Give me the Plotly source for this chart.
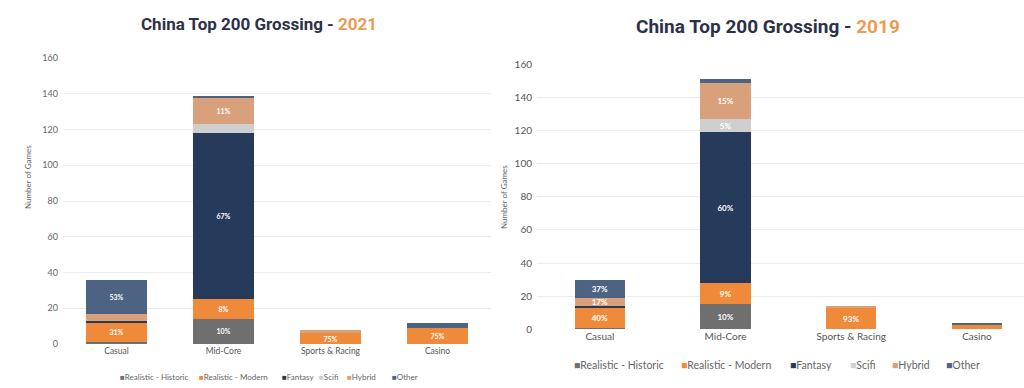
import plotly.graph_objects as go

categories = ["Casual", "Mid-Core", "Sports & Racing", "Casino"]
series_names = ["Realistic - Historic", "Realistic - Modern", "Fantasy", "Scifi", "Hybrid", "Other"]
series_colors = ["#6f6f6f", "#ef8a3b", "#263a5c", "#cfcfcf", "#d9a07c", "#4d6384"]
y_ticks = [0, 20, 40, 60, 80, 100, 120, 140, 160]

# 2021 values (number of games)
historic_2021 = [1, 14, 0, 0]
modern_2021 = [11, 11, 6, 9]
fantasy_2021 = [1, 93, 0, 0]
scifi_2021 = [0, 5, 0, 0]
hybrid_2021 = [4, 15, 2, 0]
other_2021 = [19, 1, 0, 3]

# 2021 share labels
historic_2021_txt = ["", "10%", "", ""]
modern_2021_txt = ["31%", "8%", "75%", "75%"]
fantasy_2021_txt = ["", "67%", "", ""]
scifi_2021_txt = ["", "", "", ""]
hybrid_2021_txt = ["", "11%", "", ""]
other_2021_txt = ["53%", "", "", ""]

# 2019 values (number of games)
historic_2019 = [1, 15, 0, 0]
modern_2019 = [12, 13, 13, 3]
fantasy_2019 = [1, 91, 0, 0]
scifi_2019 = [0, 8, 0, 0]
hybrid_2019 = [5, 22, 1, 0]
other_2019 = [11, 2, 0, 1]

# 2019 share labels
historic_2019_txt = ["", "10%", "", ""]
modern_2019_txt = ["40%", "9%", "93%", ""]
fantasy_2019_txt = ["", "60%", "", ""]
scifi_2019_txt = ["", "5%", "", ""]
hybrid_2019_txt = ["17%", "15%", "", ""]
other_2019_txt = ["37%", "", "", ""]

vals_2021 = [historic_2021, modern_2021, fantasy_2021, scifi_2021, hybrid_2021, other_2021]
txt_2021 = [historic_2021_txt, modern_2021_txt, fantasy_2021_txt, scifi_2021_txt, hybrid_2021_txt, other_2021_txt]
vals_2019 = [historic_2019, modern_2019, fantasy_2019, scifi_2019, hybrid_2019, other_2019]
txt_2019 = [historic_2019_txt, modern_2019_txt, fantasy_2019_txt, scifi_2019_txt, hybrid_2019_txt, other_2019_txt]

W, H = 1024, 388
FONT = "Lato"
TITLE_FONT = "Roboto"

fig = go.Figure()

for name, col, v, t in zip(series_names, series_colors, vals_2021, txt_2021):
    fig.add_trace(go.Bar(
        x=categories, y=v, name=name, marker=dict(color=col, line=dict(width=0)),
        width=0.57, text=t, textposition="inside", insidetextanchor="middle",
        constraintext="none", textangle=0,
        textfont=dict(family=FONT, size=7, color="white", weight="bold"),
        xaxis="x", yaxis="y", showlegend=False))

for name, col, v, t in zip(series_names, series_colors, vals_2019, txt_2019):
    fig.add_trace(go.Bar(
        x=categories, y=v, name=name, marker=dict(color=col, line=dict(width=0)),
        width=0.40, text=t, textposition="inside", insidetextanchor="middle",
        constraintext="none", textangle=0,
        textfont=dict(family=FONT, size=8, color="white", weight="bold"),
        xaxis="x2", yaxis="y2", showlegend=False))

def px(x):
    return x / W

def py(y):
    return (H - y) / H

grid = "#ececec"
fig.update_layout(
    width=W, height=H, margin=dict(l=0, r=0, t=0, b=0, pad=0, autoexpand=False),
    paper_bgcolor="white", plot_bgcolor="white", barmode="stack", bargap=0.4,
    font=dict(family=FONT, color="#666666"),
    xaxis=dict(domain=[px(63), px(491)], range=[-0.5, 3.5], showgrid=False, zeroline=False,
               showline=False, ticks="", automargin=False,
               tickfont=dict(size=8.5, color="#555555"), anchor="y"),
    yaxis=dict(domain=[py(344), py(58)], range=[0, 160], tickvals=y_ticks, gridcolor=grid,
               gridwidth=1, zeroline=False, showline=False, ticks="", ticklabelstandoff=4,
               automargin=False, tickfont=dict(size=9, color="#666666"), anchor="x"),
    xaxis2=dict(domain=[px(537), 1.0], range=[-0.5, (W - 537) / 125.7 - 0.5], showgrid=False,
                zeroline=False, showline=False, ticks="", automargin=False,
                tickfont=dict(size=10, color="#555555"), anchor="y2"),
    yaxis2=dict(domain=[py(329.3), py(64.3)], range=[0, 160], tickvals=y_ticks, gridcolor=grid,
                gridwidth=1, zeroline=False, showline=False, ticks="", ticklabelstandoff=4,
                automargin=False, tickfont=dict(size=10, color="#555555"), anchor="x2"),
)

title_col = "#2b3247"
year_col = "#ef9a52"
ann = []
ann.append(dict(x=px(259), y=py(24), xref="paper", yref="paper", showarrow=False,
                xanchor="center", yanchor="middle",
                text=f"China Top 200 Grossing - <span style='color:{year_col}'>2021</span>",
                font=dict(family=TITLE_FONT, size=17, color=title_col, weight="bold")))
ann.append(dict(x=px(768), y=py(27), xref="paper", yref="paper", showarrow=False,
                xanchor="center", yanchor="middle",
                text=f"China Top 200 Grossing - <span style='color:{year_col}'>2019</span>",
                font=dict(family=TITLE_FONT, size=19, color=title_col, weight="bold")))
ann.append(dict(x=px(28), y=py(177), xref="paper", yref="paper", showarrow=False,
                xanchor="center", yanchor="middle", textangle=-90, text="Number of Games",
                font=dict(family=FONT, size=8, color="#666666")))
ann.append(dict(x=px(504), y=py(197), xref="paper", yref="paper", showarrow=False,
                xanchor="center", yanchor="middle", textangle=-90, text="Number of Games",
                font=dict(family=FONT, size=8, color="#666666")))

legend_left_x = [118, 197, 280, 317, 345, 390]
legend_right_x = [572, 679, 788, 848, 890, 944]
for name, col, lx in zip(series_names, series_colors, legend_left_x):
    ann.append(dict(x=px(lx), y=py(377), xref="paper", yref="paper", showarrow=False,
                    xanchor="left", yanchor="middle",
                    text=f"<span style='color:{col}'>■</span>{name}",
                    font=dict(family=FONT, size=8, color="#666666")))
for name, col, lx in zip(series_names, series_colors, legend_right_x):
    ann.append(dict(x=px(lx), y=py(365), xref="paper", yref="paper", showarrow=False,
                    xanchor="left", yanchor="middle",
                    text=f"<span style='color:{col}'>■</span>{name}",
                    font=dict(family=FONT, size=10.5, color="#666666")))
fig.update_layout(annotations=ann)

fig.write_html("out.html", config={"displayModeBar": False},
               post_script="document.body.style.margin='0';document.body.style.overflow='hidden';")
